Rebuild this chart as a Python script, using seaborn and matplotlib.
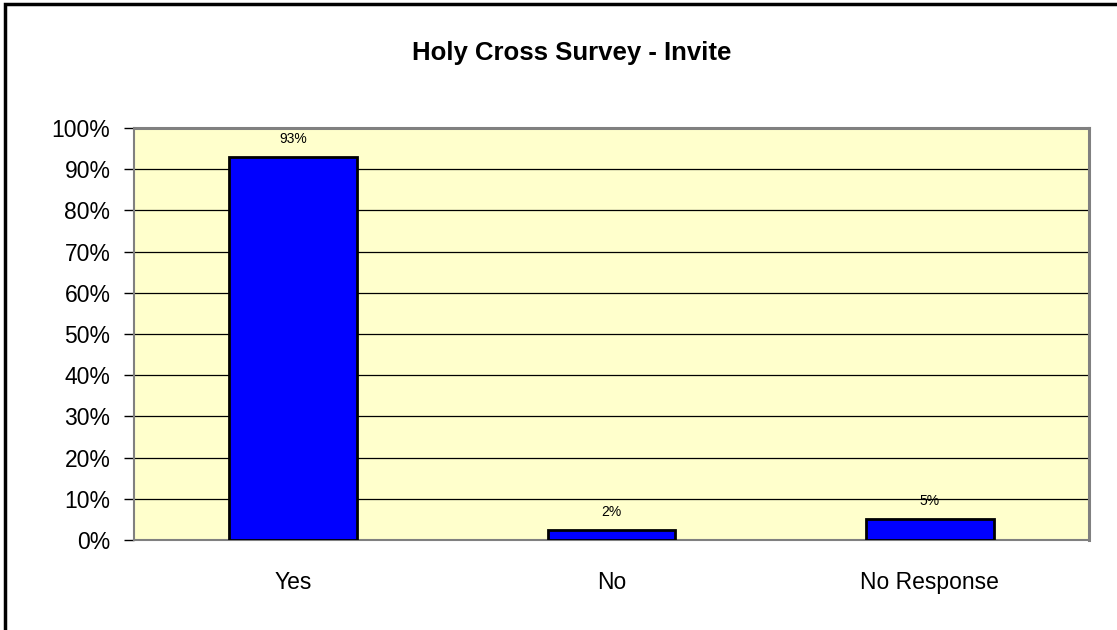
import numpy as np
import pandas as pd
import matplotlib
matplotlib.use("Agg")
import matplotlib.pyplot as plt
from matplotlib.patches import Rectangle
from matplotlib.ticker import MultipleLocator, FixedLocator, PercentFormatter
import seaborn as sns

# chart data
categories = ["Yes", "No", "No Response"]
shares = [0.93, 0.025, 0.05]
value_labels = ["93%", "2%", "5%"]

sns.set_style("white")
plt.rcParams['font.family'] = ['Liberation Sans', 'DejaVu Sans']
plt.rcParams['text.color'] = 'black'
plt.rcParams['xtick.color'] = 'black'
plt.rcParams['ytick.color'] = 'black'
plt.rcParams['xtick.labelcolor'] = 'black'
plt.rcParams['ytick.labelcolor'] = 'black'

df = pd.DataFrame({"answer": categories, "share": shares})

fig = plt.figure(figsize=(11.17, 6.30), dpi=100)
ax = fig.add_axes([134 / 1117, 1 - 540 / 630, 955 / 1117, 412 / 630])
ax.set_facecolor("#FFFFCC")

sns.barplot(data=df, x="answer", y="share", color="#0000FF", width=0.4,
            edgecolor="black", linewidth=2, saturation=1, ax=ax, zorder=3)

ax.set_ylim(0, 1)
ax.set_xlim(-0.5, 2.5)
ax.yaxis.set_major_locator(MultipleLocator(0.1))
ax.yaxis.set_major_formatter(PercentFormatter(1.0, decimals=0))
ax.grid(axis="y", color="black", linewidth=0.9, zorder=1)
ax.set_axisbelow(True)

# tick marks between categories, labels at centres
ax.xaxis.set_minor_locator(FixedLocator([-0.5, 0.5, 1.5, 2.5]))
ax.tick_params(axis="x", which="major", length=0, labelsize=16.5, pad=22)
ax.tick_params(axis="x", which="minor", length=7, width=1, color="black", direction="out")
ax.tick_params(axis="y", length=7, width=1, color="black", direction="out", labelsize=16.5, pad=10)
ax.tick_params(axis="both", bottom=True, left=True)

for side in ["top", "right"]:
    ax.spines[side].set_color("#808080")
    ax.spines[side].set_linewidth(2.2)
for side in ["left", "bottom"]:
    ax.spines[side].set_color("#808080")
    ax.spines[side].set_linewidth(1.5)

ax.bar_label(ax.containers[0], labels=value_labels, padding=8, fontsize=10, color="black")

ax.set_xlabel("")
ax.set_ylabel("")
fig.text(572 / 1117, 1 - 53 / 630, "Holy Cross Survey - Invite", ha="center", va="center",
         fontsize=18.5, fontweight="bold", color="black")

# chart area frame (cut off at right and bottom like the reference)
fig.patches.append(Rectangle((5 / 1117, -0.1), 1.2, 1.1 - 4 / 630, transform=fig.transFigure,
                             fill=False, edgecolor="black", linewidth=2.5))

fig.savefig("out.png", dpi=100)
